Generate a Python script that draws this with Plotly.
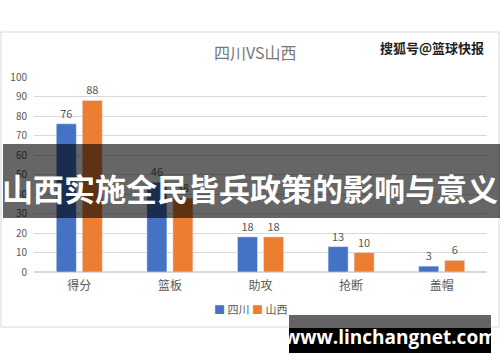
import plotly.graph_objects as go

categories = ["得分", "篮板", "助攻", "抢断", "盖帽"]
sichuan = [76, 46, 18, 13, 3]
shanxi = [88, 38, 18, 10, 6]
y_ticks = [0, 10, 20, 30, 40, 50, 60, 70, 80, 90, 100]
series_names = ["四川", "山西"]
series_colors = ["rgb(68,114,196)", "rgb(237,125,49)"]

W, H = 500, 362
L, R, T, B = 34, 13, 77, 90
PW = W - L - R
PH = H - T - B

def px(x):
    return (x - L) / PW

def py(y):
    return (H - B - y) / PH

FONT = "Noto Sans CJK SC, Microsoft YaHei, sans-serif"
GRAY = "rgb(89,89,89)"

fig = go.Figure()
for name, vals, col in zip(series_names, [sichuan, shanxi], series_colors):
    fig.add_trace(go.Bar(name=name, x=categories, y=vals, marker_color=col,
                         text=vals, textposition="outside", cliponaxis=False,
                         textfont=dict(size=11, color=GRAY)))

fig.update_layout(
    width=W, height=H,
    margin=dict(l=L, r=R, t=T, b=B, autoexpand=False),
    paper_bgcolor="white", plot_bgcolor="white",
    barmode="group", bargap=0.426, bargroupgap=0.23,
    font=dict(family=FONT, color=GRAY),
    showlegend=False,
    xaxis=dict(showgrid=False, showline=False, ticks="", tickfont=dict(size=12, color=GRAY),
               ticklabelstandoff=5),
    yaxis=dict(range=[0, 100], tickvals=y_ticks, showgrid=True, gridcolor="rgb(217,217,217)",
               zeroline=True, zerolinecolor="rgb(217,217,217)", ticks="",
               tickfont=dict(size=10, color=GRAY), ticklabelstandoff=6),
)

shapes = []
# chart frame
shapes.append(dict(type="rect", xref="paper", yref="paper", x0=px(1), x1=px(499), y0=py(327), y1=py(32),
                   line=dict(color="rgb(217,217,217)", width=1), fillcolor="rgba(0,0,0,0)", layer="below"))
# banner
shapes.append(dict(type="rect", xref="paper", yref="paper", x0=px(3), x1=px(500), y0=py(218), y1=py(144),
                   line=dict(width=0), fillcolor="rgba(0,0,0,0.6)", layer="above"))
# bottom watermark box
shapes.append(dict(type="rect", xref="paper", yref="paper", x0=px(289), x1=px(491), y0=py(328), y1=py(315),
                   line=dict(width=0), fillcolor="rgb(100,100,100)", layer="above"))
shapes.append(dict(type="rect", xref="paper", yref="paper", x0=px(289), x1=px(491), y0=py(353), y1=py(328),
                   line=dict(width=0), fillcolor="black", layer="above"))
fig.update_layout(shapes=shapes)

legend_html = "&nbsp;".join(
    f'<span style="color:{c}">■</span>&nbsp;{n}' for n, c in zip(series_names, series_colors)
)
fig.add_annotation(text=legend_html, xref="paper", yref="paper", x=px(250), y=py(309),
                   showarrow=False, font=dict(size=11, color=GRAY, family=FONT),
                   xanchor="center", yanchor="middle")

fig.add_annotation(text="四川VS山西", xref="paper", yref="paper", x=px(255), y=py(52),
                   showarrow=False, font=dict(size=16, color="rgb(120,120,120)", family=FONT),
                   xanchor="center", yanchor="middle")
fig.add_annotation(text="<b>搜狐号@篮球快报</b>", xref="paper", yref="paper", x=px(432), y=py(47),
                   showarrow=False, font=dict(size=13, color="rgb(30,30,30)", family=FONT),
                   xanchor="center", yanchor="middle")
fig.add_annotation(text="<b>山西实施全民皆兵政策的影响与意义</b>", xref="paper", yref="paper",
                   x=px(250), y=py(187), showarrow=False,
                   font=dict(size=31, color="white", family=FONT), xanchor="center", yanchor="middle")
fig.add_annotation(text="<b>www.linchangnet.com</b>", xref="paper", yref="paper",
                   x=px(390), y=py(337), showarrow=False,
                   font=dict(size=19, color="white", family="Open Sans, sans-serif"),
                   xanchor="center", yanchor="middle")

fig.write_html("out.html", config={"displayModeBar": False},
               post_script="document.body.style.margin='0';document.body.style.overflow='hidden';")
